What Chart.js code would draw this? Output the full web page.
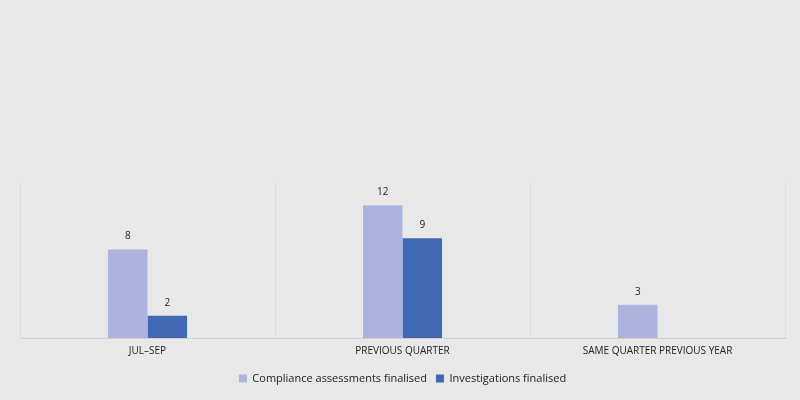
<!DOCTYPE html>
<html>
<head>
<meta charset="utf-8">
<script src="https://cdn.jsdelivr.net/npm/chart.js@4"></script>
<style>
  html, body { margin: 0; padding: 0; background: #e8e8e8; }
  #wrap { width: 800px; height: 400px; }
</style>
</head>
<body>
<div id="wrap"><canvas id="chart"></canvas></div>
<script>
const categories = ["JUL–SEP", "PREVIOUS QUARTER", "SAME QUARTER PREVIOUS YEAR"];
const complianceValues = [8, 12, 3];
const investigationValues = [2, 9, 0];
const seriesNames = ["Compliance assessments finalised", "Investigations finalised"];

const FONT = "'Open Sans', 'Liberation Sans', sans-serif";

// draws the number above each bar, skips zeros
const valueLabels = {
  id: "valueLabels",
  afterDatasetsDraw(chart) {
    const ctx = chart.ctx;
    ctx.save();
    ctx.font = "10px " + FONT;
    ctx.fillStyle = "#222";
    ctx.textAlign = "center";
    ctx.textBaseline = "middle";
    chart.data.datasets.forEach((ds, i) => {
      chart.getDatasetMeta(i).data.forEach((bar, j) => {
        const v = ds.data[j];
        if (!v) return;
        ctx.fillText(String(v), bar.x, bar.y - 13);
      });
    });
    ctx.restore();
  },
};

new Chart(document.getElementById("chart"), {
  type: "bar",
  data: {
    labels: categories,
    datasets: [
      {
        label: seriesNames[0],
        data: complianceValues,
        backgroundColor: "#abb4df",
        categoryPercentage: 0.31,
        barPercentage: 1,
      },
      {
        label: seriesNames[1],
        data: investigationValues,
        backgroundColor: "#4068b3",
        categoryPercentage: 0.31,
        barPercentage: 1,
      },
    ],
  },
  options: {
    responsive: true,
    maintainAspectRatio: false,
    animation: false,
    layout: { padding: { top: 183, left: 20, right: 15, bottom: 6 } },
    scales: {
      x: {
        grid: {
          offset: true,
          color: "#cfcfcf",
          drawTicks: false,
        },
        border: { color: "#cfcfcf", dash: [1, 1] },
        ticks: {
          padding: 7,
          color: "#222",
          font: { family: FONT, size: 10 },
        },
      },
      y: {
        display: false,
        min: 0,
        max: 14,
      },
    },
    plugins: {
      legend: {
        position: "bottom",
        labels: {
          boxWidth: 8,
          boxHeight: 8,
          padding: 9,
          color: "#222",
          font: { family: FONT, size: 11 },
        },
      },
      tooltip: { enabled: false },
    },
  },
  plugins: [valueLabels],
});
</script>
</body>
</html>
